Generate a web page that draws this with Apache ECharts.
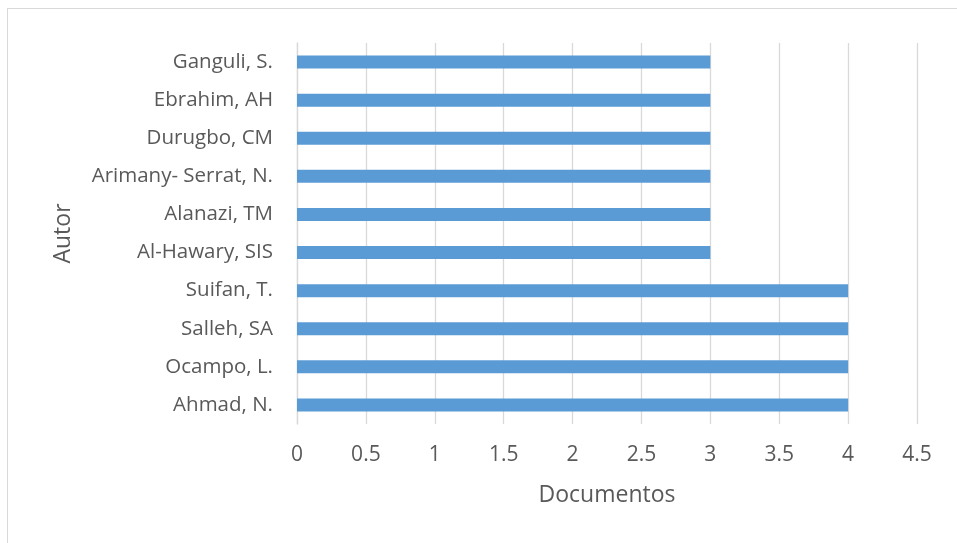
<!DOCTYPE html>
<html>
<head>
<meta charset="utf-8">
<script src="https://cdn.jsdelivr.net/npm/echarts@6/dist/echarts.min.js"></script>
<style>
html,body{margin:0;padding:0;background:#fff;}
#frame{position:absolute;left:7px;top:8px;width:960px;height:540px;border:1px solid #d9d9d9;box-sizing:border-box;}
#chart{position:absolute;left:0;top:0;width:957px;height:543px;}
</style>
</head>
<body>
<div id="frame"></div>
<div id="chart"></div>
<script>
const categories = ["Ahmad, N.", "Ocampo, L.", "Salleh, SA", "Suifan, T.", "Al-Hawary, SIS", "Alanazi, TM", "Arimany- Serrat, N.", "Durugbo, CM", "Ebrahim, AH", "Ganguli, S."];
const documentos = [4, 4, 4, 4, 3, 3, 3, 3, 3, 3];
const xAxisName = "Documentos";
const yAxisName = "Autor";

const chart = echarts.init(document.getElementById('chart'), null, {renderer: 'canvas'});
const font = "'Open Sans', 'Noto Sans', sans-serif";
chart.setOption({
  animation: false,
  grid: {left: 297, right: 40, top: 43, bottom: 119, containLabel: false},
  xAxis: {
    type: 'value', min: 0, max: 4.5, interval: 0.5,
    name: xAxisName, nameLocation: 'middle', nameGap: 60,
    nameTextStyle: {color: '#595959', fontSize: 23, fontFamily: font},
    axisLine: {show: false}, axisTick: {show: false},
    axisLabel: {color: '#595959', fontSize: 21, fontFamily: font, margin: 21},
    splitLine: {show: true, lineStyle: {color: '#d9d9d9', width: 1.3}}
  },
  yAxis: {
    type: 'category', data: categories,
    name: yAxisName, nameLocation: 'middle', nameGap: 222, nameRotate: 90,
    nameTextStyle: {color: '#595959', fontSize: 23, fontFamily: font},
    axisLine: {show: true, lineStyle: {color: '#d9d9d9', width: 1.3}},
    axisTick: {show: false},
    axisLabel: {color: '#595959', fontSize: 20.5, fontFamily: font, margin: 24}
  },
  series: [{
    type: 'bar', data: documentos, barWidth: 13,
    itemStyle: {color: '#5b9bd5'}
  }]
});
</script>
</body>
</html>
